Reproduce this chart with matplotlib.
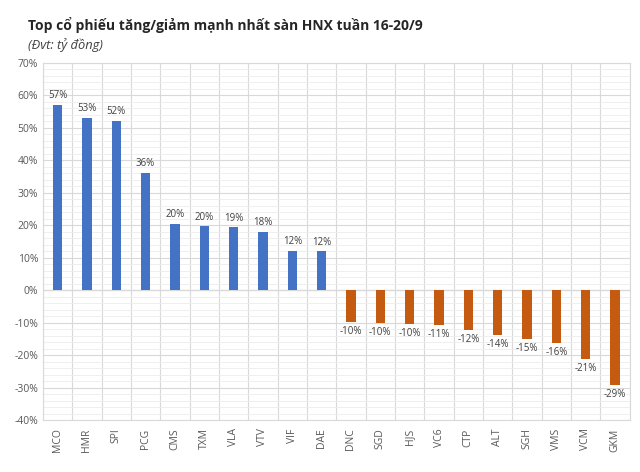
import matplotlib.pyplot as plt
import numpy as np
from matplotlib.ticker import MultipleLocator, FuncFormatter

plt.rcParams['font.family'] = ['Open Sans', 'DejaVu Sans']

codes = ["MCO", "HMR", "SPI", "PCG", "CMS", "TXM", "VLA", "VTV", "VIF", "DAE",
         "DNC", "SGD", "HJS", "VC6", "CTP", "ALT", "SGH", "VMS", "VCM", "GKM"]
values = [57, 53, 52, 36, 20.4, 19.6, 19.3, 17.8, 12.2, 11.9,
          -9.9, -10.0, -10.4, -10.8, -12.2, -13.9, -15.1, -16.4, -21.2, -29.3]
labels = ["57%", "53%", "52%", "36%", "20%", "20%", "19%", "18%", "12%", "12%",
          "-10%", "-10%", "-10%", "-11%", "-12%", "-14%", "-15%", "-16%", "-21%", "-29%"]

BLUE = "#4472C4"
ORANGE = "#C55A11"

fig = plt.figure(figsize=(6.4, 4.72), dpi=100)
ax = fig.add_axes([0.067, 0.11, 0.917, 0.757])

x = np.arange(len(codes))
colors = [BLUE if v >= 0 else ORANGE for v in values]
ax.bar(x, values, width=0.32, color=colors, zorder=3)

for xi, v, lab in zip(x, values, labels):
    if v >= 0:
        ax.text(xi, v + 1.2, lab, ha='center', va='bottom', fontsize=7, color='#404040')
    else:
        ax.text(xi, v - 1.2, lab, ha='center', va='top', fontsize=7, color='#404040')

ax.set_xlim(-0.5, len(codes) - 0.5)
ax.set_ylim(-40, 70)
ax.yaxis.set_major_locator(MultipleLocator(10))
ax.yaxis.set_minor_locator(MultipleLocator(2))
ax.yaxis.set_major_formatter(FuncFormatter(lambda v, p: f"{int(round(v))}%"))
ax.set_xticks(x)
ax.set_xticklabels(codes, rotation=90, fontsize=7.5, color='#595959')
ax.set_xticks(np.arange(len(codes) + 1) - 0.5, minor=True)
ax.tick_params(axis='y', labelsize=7.5, labelcolor='#595959', length=0, which='both')
ax.tick_params(axis='x', length=0, which='both', pad=6)

ax.grid(axis='y', which='major', color='#D9D9D9', linewidth=0.8, zorder=0)
ax.grid(axis='y', which='minor', color='#EDEDED', linewidth=0.6, zorder=0)
ax.grid(axis='x', which='minor', color='#D9D9D9', linewidth=0.8, zorder=0)
ax.axhline(0, color='#D9D9D9', linewidth=0.9, zorder=2)
for s in ax.spines.values():
    s.set_color('#D9D9D9')
    s.set_linewidth(0.8)

fig.text(0.044, 0.947, "Top cổ phiếu tăng/giảm mạnh nhất sàn HNX tuần 16-20/9",
         fontsize=10, fontweight='bold', color='#262626', va='center')
fig.text(0.044, 0.905, "(Đvt: tỷ đồng)", fontsize=9.3, style='italic',
         color='#404040', va='center')

fig.savefig("out.png", dpi=100)
